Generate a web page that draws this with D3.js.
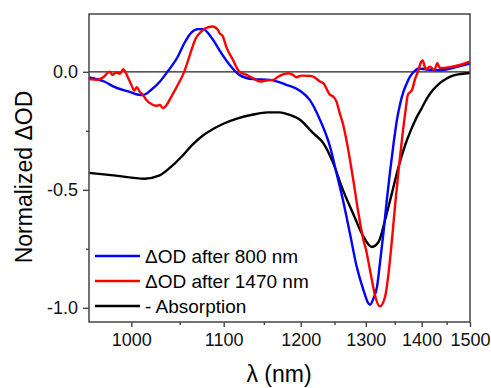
<!DOCTYPE html>
<html>
<head>
<meta charset="utf-8">
<script src="https://cdn.jsdelivr.net/npm/d3@7"></script>
<style>
  body { margin: 0; background: #fff; }
  text { font-family: "Liberation Sans", Arial, sans-serif; }
</style>
</head>
<body>
<div id="chart"></div>
<script>
// wavelengths (nm) and normalized dOD values
var blueLambda = [960, 974, 984, 997, 1007, 1012, 1020, 1029, 1037, 1048, 1055, 1063, 1070, 1076, 1086, 1097, 1107, 1119, 1136, 1158, 1180, 1199, 1213, 1228, 1243, 1253, 1263, 1274, 1285, 1296, 1304, 1307, 1313, 1319, 1324, 1330, 1336, 1342, 1348, 1354, 1360, 1366, 1372, 1378, 1388, 1394, 1410, 1436, 1460, 1480, 1500];
var blueValues = [-0.024, -0.041, -0.065, -0.083, -0.097, -0.098, -0.076, -0.041, 0.001, 0.065, 0.121, 0.167, 0.181, 0.181, 0.143, 0.08, 0.03, -0.013, -0.031, -0.034, -0.055, -0.08, -0.119, -0.203, -0.316, -0.429, -0.542, -0.683, -0.825, -0.924, -0.98, -0.987, -0.959, -0.91, -0.81, -0.683, -0.542, -0.415, -0.302, -0.203, -0.133, -0.083, -0.048, -0.02, 0.006, 0.014, 0.01, 0.007, 0.015, 0.025, 0.035];

var redLambda = [960, 968, 974, 979, 982, 985, 989, 992, 997, 1000, 1003, 1005.5, 1008, 1011.5, 1015, 1020, 1025, 1029, 1032, 1036, 1041, 1048, 1055, 1061, 1064, 1067, 1074, 1082, 1087, 1093, 1095, 1099, 1103, 1111, 1119, 1128, 1136, 1145, 1153, 1162, 1171, 1183, 1189, 1194, 1201, 1213, 1218, 1228, 1233, 1243, 1248, 1253, 1258, 1263, 1269, 1279, 1287, 1296, 1301, 1304, 1310, 1316, 1324, 1333, 1339, 1345, 1351, 1357, 1363, 1369, 1374, 1382, 1387, 1394, 1398, 1402, 1408, 1416, 1425, 1431, 1436, 1457, 1480, 1500];
var redValues = [-0.031, -0.034, -0.02, 0.001, -0.013, -0.003, -0.008, 0.011, -0.027, -0.055, -0.079, -0.065, -0.083, -0.097, -0.119, -0.136, -0.144, -0.14, -0.154, -0.14, -0.105, -0.055, 0.001, 0.07, 0.105, 0.136, 0.171, 0.189, 0.192, 0.178, 0.164, 0.15, 0.107, 0.051, 0.001, -0.013, -0.027, -0.041, -0.037, -0.034, -0.017, -0.006, -0.013, -0.023, -0.016, -0.017, -0.02, -0.041, -0.048, -0.097, -0.105, -0.126, -0.175, -0.22, -0.295, -0.45, -0.585, -0.712, -0.76, -0.8, -0.88, -0.952, -0.994, -0.952, -0.853, -0.712, -0.556, -0.415, -0.288, -0.175, -0.097, -0.076, -0.034, 0.008, 0.037, 0.048, 0.011, 0.022, 0.008, 0.037, 0.016, 0.02, 0.03, 0.043];

var absLambda = [960, 985, 1013, 1028, 1040, 1052, 1063, 1075, 1088, 1101, 1117, 1135, 1155, 1170, 1180, 1199, 1218, 1233, 1248, 1263, 1279, 1296, 1310, 1322, 1333, 1345, 1357, 1369, 1380, 1390, 1400, 1411, 1423, 1436, 1450, 1463, 1480, 1500];
var absValues = [-0.428, -0.44, -0.453, -0.44, -0.405, -0.36, -0.313, -0.272, -0.241, -0.218, -0.197, -0.182, -0.172, -0.172, -0.178, -0.203, -0.26, -0.302, -0.387, -0.5, -0.599, -0.698, -0.742, -0.719, -0.627, -0.514, -0.401, -0.31, -0.245, -0.195, -0.155, -0.11, -0.075, -0.048, -0.028, -0.016, -0.009, -0.005];

var seriesNames = ["\u0394OD after 800 nm", "\u0394OD after 1470 nm", "- Absorption"];
var seriesColors = ["#0000ff", "#ff0000", "#000000"];

var xTicks = [1000, 1100, 1200, 1300, 1400, 1500];
var xMinor = [1050, 1150, 1250, 1350, 1450];
var yTicks = [0, -0.5, -1.0];
var yMinor = [-0.25, -0.75];

var margin = {top: 14, right: 21, bottom: 66, left: 89},
    width = 491,
    height = 388,
    w = width - margin.left - margin.right,
    h = height - margin.top - margin.bottom;

var svg = d3.select("#chart")
  .append("svg")
    .attr("width", width)
    .attr("height", height)
  .append("g")
    .attr("transform", "translate(" + margin.left + "," + margin.top + ")");

// axis is linear in photon energy (1/lambda)
var xr = d3.scaleLinear()
    .domain([1000 / 960, 1000 / 1500])
    .range([0, w]);
var x = function(l) { return xr(1000 / l); };

var y = d3.scaleLinear()
    .domain([-1.06, 0.245])
    .range([h, 0]);

// zero line
svg.append("line")
  .attr("x1", 0).attr("x2", w)
  .attr("y1", y(0)).attr("y2", y(0))
  .attr("stroke", "#222")
  .attr("stroke-width", 1.2);

var line = d3.line()
  .x(d => x(d[0]))
  .y(d => y(d[1]))
  .curve(d3.curveMonotoneX);

var series = [
  d3.zip(blueLambda, blueValues),
  d3.zip(redLambda, redValues),
  d3.zip(absLambda, absValues)
];

// black underneath, red on top
[2, 0, 1].forEach(function(i) {
  svg.append("path")
    .datum(series[i])
    .attr("fill", "none")
    .attr("stroke", seriesColors[i])
    .attr("stroke-width", 2.4)
    .attr("stroke-linejoin", "round")
    .attr("d", line);
});

// frame
svg.append("rect")
  .attr("width", w).attr("height", h)
  .attr("fill", "none")
  .attr("stroke", "#444")
  .attr("stroke-width", 1.5);

var xAxis = svg.append("g")
  .attr("transform", "translate(0," + h + ")")
  .call(d3.axisBottom(xr)
    .tickValues(xTicks.map(t => 1000 / t))
    .tickFormat(v => Math.round(1000 / v))
    .tickSize(5).tickPadding(6));
svg.append("g")
  .attr("transform", "translate(0," + h + ")")
  .call(d3.axisBottom(xr)
    .tickValues(xMinor.map(t => 1000 / t))
    .tickFormat("")
    .tickSize(3));

var yAxis = svg.append("g")
  .call(d3.axisLeft(y)
    .tickValues(yTicks)
    .tickFormat(d3.format(".1f"))
    .tickSize(6).tickPadding(5));
svg.append("g")
  .call(d3.axisLeft(y)
    .tickValues(yMinor)
    .tickFormat("")
    .tickSize(3));

svg.selectAll(".domain").remove();
svg.selectAll(".tick line").attr("stroke", "#444").attr("stroke-width", 1.4);
svg.selectAll(".tick text")
  .style("font-size", "18px")
  .style("font-family", "Liberation Sans, Arial, sans-serif")
  .attr("fill", "#111");
yAxis.selectAll(".tick text").text(d => d3.format(".1f")(d).replace("\u2212", "-"));

// axis titles
svg.append("text")
  .attr("x", 279 - margin.left)
  .attr("y", 382 - margin.top)
  .attr("text-anchor", "middle")
  .style("font-size", "23px")
  .text("\u03bb (nm)");

svg.append("text")
  .attr("transform", "translate(" + (32 - margin.left) + "," + (177 - margin.top) + ") rotate(-90)")
  .attr("text-anchor", "middle")
  .style("font-size", "23px")
  .text("Normalized \u0394OD");

// legend
var legend = svg.append("g")
  .attr("transform", "translate(6," + (256 - margin.top) + ")");
seriesNames.forEach(function(name, i) {
  var g = legend.append("g").attr("transform", "translate(0," + (i * 25) + ")");
  g.append("line")
    .attr("x1", 0).attr("x2", 45)
    .attr("stroke", seriesColors[i])
    .attr("stroke-width", 2.4);
  g.append("text")
    .attr("x", 50)
    .attr("dy", "0.35em")
    .style("font-size", "19px")
    .text(name);
});
</script>
</body>
</html>
